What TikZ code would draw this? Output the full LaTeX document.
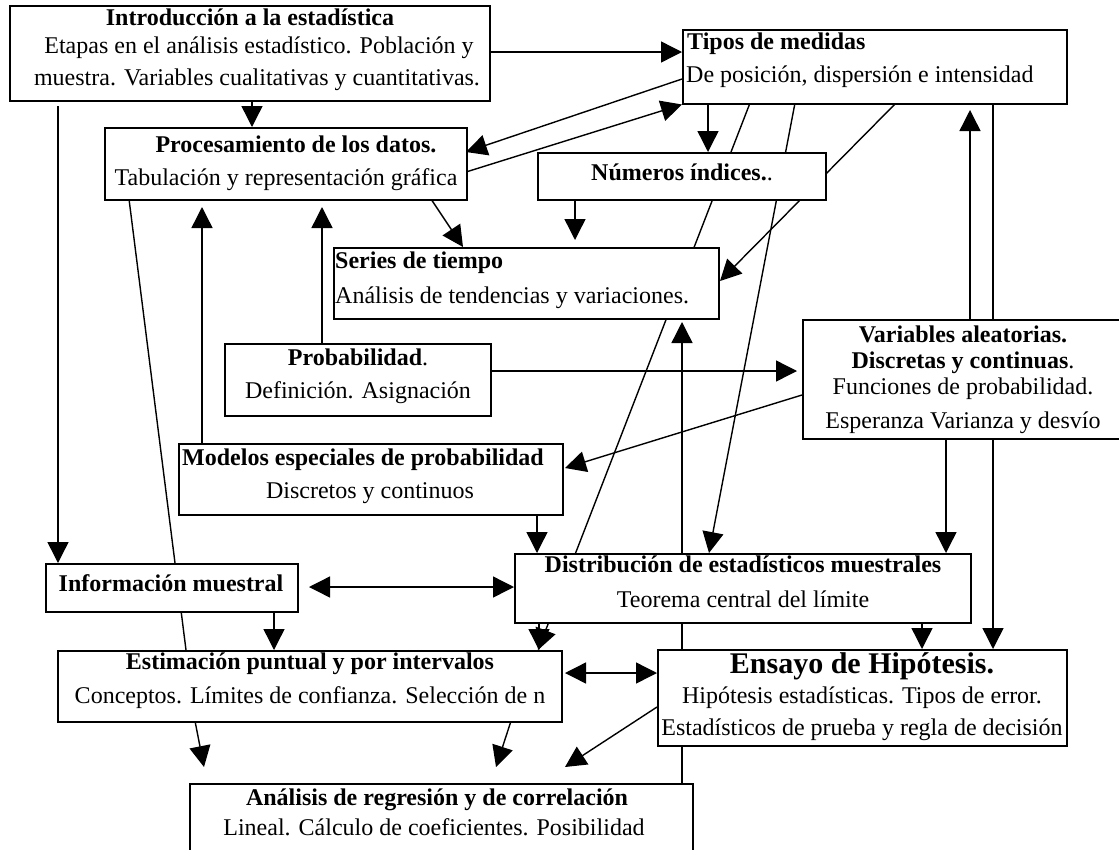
\documentclass[tikz,border=0pt]{standalone}
\usepackage{fontspec}
\setmainfont{Liberation Serif}
\usetikzlibrary{arrows.meta,calc}
\pgfdeclarelayer{background}
\pgfsetlayers{background,main}
\newcommand\myfs{\fontsize{24}{28}\selectfont}
\newcommand\mybig{\fontsize{30}{34}\selectfont}
\begin{document}
\begin{tikzpicture}[x=1pt,y=-1pt,
  box/.style={draw, line width=1.5pt, fill=white, inner sep=0pt, anchor=north west},
  txt/.style={anchor=base, inner sep=0pt, font=\myfs},
  ltxt/.style={anchor=base west, inner sep=0pt, font=\myfs},
  conn/.style={line width=1.4pt},
  >={Triangle[length=21pt,width=21pt]}]
\useasboundingbox (0,0) rectangle (1119,849);
% boxes
\node[box, minimum width=480pt, minimum height=95pt] (intro) at (9,5) {};
\node[box, minimum width=384pt, minimum height=74pt] (tipos) at (682,29) {};
\node[box, minimum width=362pt, minimum height=72pt] (proc) at (104,127) {};
\node[box, minimum width=288pt, minimum height=47pt] (num) at (537,152) {};
\node[box, minimum width=385pt, minimum height=71pt] (series) at (333,247) {};
\node[box, minimum width=266pt, minimum height=72pt] (prob) at (224,343) {};
\node[box, minimum width=323pt, minimum height=119pt] (varb) at (802,319) {};
\node[box, minimum width=384pt, minimum height=71pt] (model) at (178,443) {};
\node[box, minimum width=252pt, minimum height=48pt] (info) at (45,563) {};
\node[box, minimum width=456pt, minimum height=69pt] (dist) at (514,553) {};
\node[box, minimum width=504pt, minimum height=71pt] (estim) at (57,650) {};
\node[box, minimum width=409pt, minimum height=96pt] (ensayo) at (657,649) {};
\node[box, minimum width=503pt, minimum height=97pt] (anal) at (189,783) {};
% texts
\node[txt] (introT) at (250,25) {\textbf{Introducción a la estadística}};
\node[txt] (introA) at (259,53) {Etapas en el análisis estadístico. Población y};
\node[txt] (introB) at (257,85) {muestra. Variables cualitativas y cuantitativas.};
\node[ltxt] (tiposT) at (687,49) {\textbf{Tipos de medidas}};
\node[ltxt] (tiposA) at (686,82) {De posición, dispersión e intensidad};
\node[txt] (procT) at (296,152) {\textbf{Procesamiento de los datos.}};
\node[txt] (procA) at (286,185) {Tabulación y representación gráfica};
\node[txt] (numT) at (682,180) {\textbf{Números índices.}.};
\node[ltxt] (seriesT) at (335,268) {\textbf{Series de tiempo}};
\node[ltxt] (seriesA) at (335,303) {Análisis de tendencias y variaciones.};
\node[txt] (probT) at (358,365) {\textbf{Probabilidad}.};
\node[txt] (probA) at (358,398) {Definición. Asignación};
\node[txt] (varbT) at (963,342) {\textbf{Variables aleatorias.}};
\node[txt] (varbU) at (963,368) {\textbf{Discretas y continuas}.};
\node[txt] (varbA) at (963,394) {Funciones de probabilidad.};
\node[txt] (varbB) at (963,428) {Esperanza Varianza y desvío};
\node[txt] (modelT) at (363,465) {\textbf{Modelos especiales de probabilidad}};
\node[txt] (modelA) at (370,498) {Discretos y continuos};
\node[txt] (infoT) at (171,591) {\textbf{Información muestral}};
\node[txt] (distT) at (743,572) {\textbf{Distribución de estadísticos muestrales}};
\node[txt] (distA) at (743,607) {Teorema central del límite};
\node[txt] (estimT) at (310,669) {\textbf{Estimación puntual y por intervalos}};
\node[txt] (estimA) at (310,703) {Conceptos. Límites de confianza. Selección de n};
\node[txt, font=\mybig] (ensayoT) at (862,673) {\textbf{Ensayo de Hipótesis.}};
\node[txt] (ensayoA) at (862,703) {Hipótesis estadísticas. Tipos de error.};
\node[txt] (ensayoB) at (862,735) {Estadísticos de prueba y regla de decisión};
\node[txt] (analT) at (437,805) {\textbf{Análisis de regresión y de correlación}};
\node[txt] (analA) at (434,835) {Lineal. Cálculo de coeficientes. Posibilidad};
% free ends
\coordinate (t27) at (204,767);
\coordinate (t28) at (496,767);
\coordinate (t29) at (565,767);
% connectors
\begin{pgfonlayer}{background}
\draw[conn,->] ($(intro.north west)+(480,47)$) -- ($(tipos.north west)+(0,23)$);
\draw[conn,->] ($(tipos.north west)+(0,50)$) -- ($(proc.north west)+(362,25)$);
\draw[conn,->] ($(proc.north west)+(362,45)$) -- (tipos.south west);
\draw[conn,->] ($(intro.north west)+(243,95)$) -- ($(proc.north west)+(148,0)$);
\draw[conn,->,shorten <=6pt] ($(intro.north west)+(49,95)$) -- ($(info.north west)+(13,0)$);
\draw[conn,->] ($(tipos.north west)+(26,74)$) -- ($(num.north west)+(171,0)$);
\draw[conn,->] ($(tipos.north west)+(68,74)$) -- ($(estim.north west)+(481,0)$);
\draw[conn,->] ($(tipos.north west)+(113,74)$) -- ($(dist.north west)+(195,0)$);
\draw[conn,->] ($(tipos.north west)+(214,74)$) -- ($(series.north west)+(387,34)$);
\draw[conn,->,shorten >=7pt] ($(varb.north west)+(168,0)$) -- ($(tipos.north west)+(288,74)$);
\draw[conn,->] ($(tipos.north west)+(311,74)$) -- ($(ensayo.north west)+(336,0)$);
\draw[conn,->,shorten >=7pt] ($(num.north west)+(38,47)$) -- ($(series.north west)+(242,0)$);
\draw[conn,->] ($(proc.north west)+(327,72)$) -- ($(series.north west)+(130,0)$);
\draw[conn,->,shorten >=8pt] ($(model.north west)+(24,0)$) -- ($(proc.north west)+(98,72)$);
\draw[conn,->,shorten >=8pt] ($(prob.north west)+(98,0)$) -- ($(proc.north west)+(218,72)$);
\draw[conn,->,shorten >=5pt] ($(prob.north west)+(266,28)$) -- ($(varb.north west)+(0,52)$);
\draw[conn,->] ($(varb.north west)+(0,76)$) -- ($(model.north west)+(387,25)$);
\draw[conn,->,shorten >=4pt] ($(anal.north west)+(493,0)$) -- ($(series.north west)+(349,71)$);
\draw[conn,->] ($(model.north west)+(359,71)$) -- ($(dist.north west)+(23,0)$);
\draw[conn,->] ($(varb.north west)+(144,119)$) -- ($(dist.north west)+(432,0)$);
\draw[conn] ($(proc.north west)+(25,72)$) -- ($(estim.north west)+(129,0)$);
\draw[conn,<->,shorten <=12pt] ($(info.north west)+(252,24)$) -- ($(dist.north west)+(0,34)$);
\draw[conn,->] ($(info.north west)+(229,48)$) -- ($(estim.north west)+(217,0)$);
\draw[conn,->] ($(dist.north west)+(25,69)$) -- ($(estim.north west)+(482,0)$);
\draw[conn,->] ($(dist.north west)+(408,69)$) -- ($(ensayo.north west)+(265,0)$);
\draw[conn,<->,shorten <=4pt] ($(estim.north west)+(504,23)$) -- ($(ensayo.north west)+(0,24)$);
\draw[conn,->] ($(estim.north west)+(138,71)$) -- (t27);
\draw[conn,->] ($(estim.north west)+(454,71)$) -- (t28);
\draw[conn,->] ($(ensayo.north west)+(0,58)$) -- (t29);
\end{pgfonlayer}
\end{tikzpicture}
\end{document}
